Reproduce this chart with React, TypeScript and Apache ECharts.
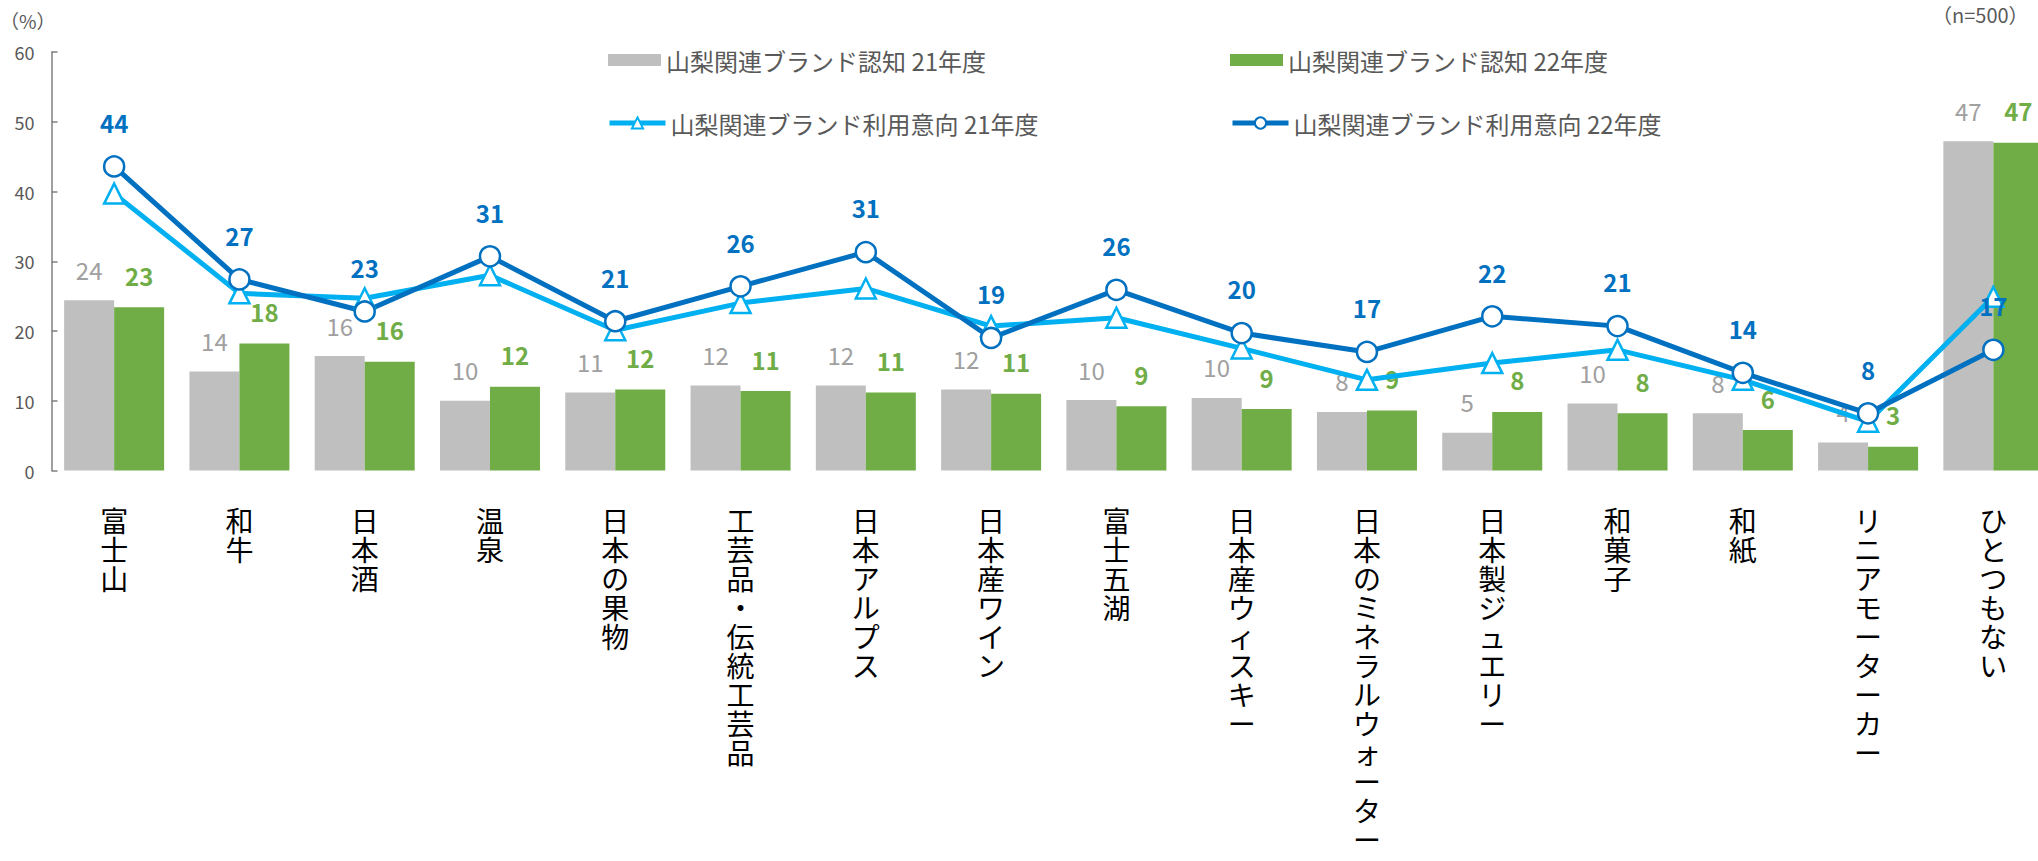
import React, { useEffect, useRef } from 'react';
import * as echarts from 'echarts';

const categories = [
  '富士山', '和牛', '日本酒', '温泉', '日本の果物', '工芸品・伝統工芸品', '日本アルプス', '日本産ワイン',
  '富士五湖', '日本産ウィスキー', '日本のミネラルウォーター', '日本製ジュエリー', '和菓子', '和紙', 'リニアモーターカー', 'ひとつもない',
];

const seriesNames = [
  '山梨関連ブランド認知 21年度',
  '山梨関連ブランド認知 22年度',
  '山梨関連ブランド利用意向 21年度',
  '山梨関連ブランド利用意向 22年度',
];

const aware21 = [24.4, 14.2, 16.4, 10.0, 11.2, 12.2, 12.2, 11.6, 10.1, 10.4, 8.4, 5.4, 9.6, 8.2, 4.0, 47.2];
const aware22 = [23.4, 18.2, 15.6, 12.0, 11.6, 11.4, 11.2, 11.0, 9.2, 8.8, 8.6, 8.4, 8.2, 5.8, 3.4, 47.0];
const intent21 = [39.7, 25.4, 24.7, 28.0, 20.1, 24.0, 26.1, 20.7, 21.9, 17.5, 13.0, 15.4, 17.3, 13.0, 7.0, 24.9];
const intent22 = [43.6, 27.4, 22.8, 30.7, 21.4, 26.4, 31.3, 19.0, 25.9, 19.7, 17.0, 22.1, 20.7, 14.0, 8.2, 17.3];

const yTicks = { min: 0, max: 60, interval: 10 };

const FONT = "'Noto Sans CJK JP', 'Noto Sans', sans-serif";
const round = (p: any) => String(Math.round(p.value));

export default function App() {
  const ref = useRef<HTMLDivElement>(null);
  useEffect(() => {
    const chart = echarts.init(ref.current!, null, { renderer: 'svg' });
    const legendText = { color: '#595959', fontSize: 24, fontFamily: FONT };
    const lineLegend = { padding: 0, itemWidth: 56, itemHeight: 14, textStyle: legendText, lineStyle: { width: 5 } };
    chart.setOption({
      animation: false,
      backgroundColor: '#ffffff',
      textStyle: { fontFamily: FONT },
      grid: { left: 51.5, right: 44, top: 52, bottom: 390.5, containLabel: false },
      legend: [
        { data: [seriesNames[0]], left: 608, top: 48, padding: 0, icon: 'rect', itemWidth: 53, itemHeight: 12, textStyle: legendText },
        { data: [seriesNames[1]], left: 1230, top: 48, padding: 0, icon: 'rect', itemWidth: 53, itemHeight: 12, textStyle: legendText },
        { data: [seriesNames[2]], left: 607, top: 111, ...lineLegend },
        { data: [seriesNames[3]], left: 1230, top: 111, ...lineLegend },
      ],
      graphic: [
        { type: 'text', left: 0, top: 11, style: { text: '（%）', fontSize: 19, fill: '#595959', fontFamily: FONT } },
        { type: 'text', left: 1932, top: 4, style: { text: '（n=500）', fontSize: 20, fill: '#595959', fontFamily: FONT } },
      ],
      xAxis: {
        type: 'category',
        data: categories,
        axisLine: { show: false },
        axisTick: { show: false },
        axisLabel: {
          interval: 0,
          margin: 35,
          fontSize: 28,
          lineHeight: 29,
          color: '#000000',
          fontFamily: FONT,
          formatter: (v: string) => Array.from(v).join('\n'),
        },
      },
      yAxis: {
        type: 'value',
        min: yTicks.min,
        max: yTicks.max,
        interval: yTicks.interval,
        axisLine: { show: true, lineStyle: { color: '#7F7F7F', width: 1.5 } },
        axisTick: { show: true, inside: true, length: 6, lineStyle: { color: '#7F7F7F', width: 1.5 } },
        splitLine: { show: false },
        axisLabel: { fontSize: 18, color: '#595959', margin: 17, fontFamily: FONT },
      },
      series: [
        {
          name: seriesNames[0],
          type: 'bar',
          data: aware21,
          barWidth: 50,
          barGap: '0%',
          itemStyle: { color: '#BFBFBF' },
          label: { show: true, position: 'top', distance: 19, color: '#A0A0A0', fontSize: 24, fontFamily: FONT, formatter: round },
        },
        {
          name: seriesNames[1],
          type: 'bar',
          data: aware22,
          barWidth: 50,
          barGap: '0%',
          itemStyle: { color: '#70AD47' },
          label: { show: true, position: 'top', distance: 20, color: '#70AD47', fontWeight: 'bold', fontSize: 24, fontFamily: FONT, formatter: round },
        },
        {
          name: seriesNames[2],
          type: 'line',
          data: intent21,
          symbol: 'triangle',
          symbolSize: 20,
          lineStyle: { color: '#00B0F0', width: 5 },
          itemStyle: { color: '#ffffff', borderColor: '#00B0F0', borderWidth: 2.5 },
          label: { show: false },
        },
        {
          name: seriesNames[3],
          type: 'line',
          data: intent22,
          symbol: 'circle',
          symbolSize: 20,
          lineStyle: { color: '#0070C0', width: 5 },
          itemStyle: { color: '#ffffff', borderColor: '#0070C0', borderWidth: 2.5 },
          label: { show: true, position: 'top', distance: 21, color: '#0070C0', fontWeight: 'bold', fontSize: 24, fontFamily: FONT, formatter: round },
        },
      ],
    });
    return () => chart.dispose();
  }, []);
  return (
    <div style={{ position: 'absolute', left: 0, top: 0, width: 2038, height: 861, overflow: 'hidden', background: '#fff' }}>
      <div ref={ref} style={{ width: 2100, height: 861 }} />
    </div>
  );
}
